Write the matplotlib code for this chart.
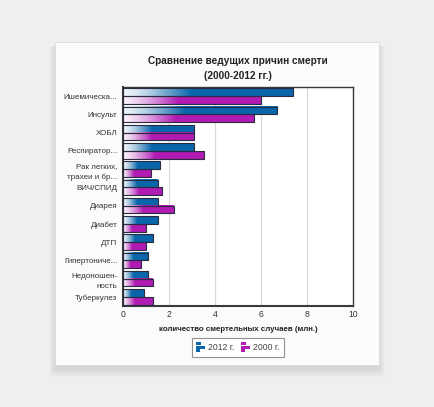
import numpy as np
import matplotlib.pyplot as plt
from matplotlib.patches import Rectangle, Patch
from matplotlib.legend_handler import HandlerBase
from matplotlib.colors import to_rgb

plt.rcParams['font.family'] = ['Liberation Sans', 'DejaVu Sans']

# data (millions of deaths)
causes = ["Ишемическа...", "Инсульт", "ХОБЛ", "Респиратор...",
          "Рак легких,\nтрахеи и бр...", "ВИЧ/СПИД", "Диарея", "Диабет",
          "ДТП", "Гипертониче...", "Недоношен-\nность", "Туберкулез"]
deaths_2012 = [7.4, 6.7, 3.1, 3.1, 1.6, 1.5, 1.5, 1.5, 1.3, 1.1, 1.1, 0.9]
deaths_2000 = [6.0, 5.7, 3.1, 3.5, 1.2, 1.7, 2.2, 1.0, 1.0, 0.8, 1.3, 1.3]
series_names = ["2012 г.", "2000 г."]
xticks = [0, 2, 4, 6, 8, 10]

blue = "#0a66ab"
magenta = "#b01cb4"
W, H = 434, 407

fig = plt.figure(figsize=(W / 100, H / 100), dpi=100)
fig.patch.set_facecolor("#efefef")

# card with soft shadow, mostly below
cx0, cx1, cy0, cy1 = 55, 379, 42, 365
for i in range(8):
    d = 8 - i
    fig.patches.append(Rectangle(((cx0 - d * 0.7) / W, (H - cy1 - d - 4) / H),
                                 (cx1 - cx0 + 1.4 * d) / W, (cy1 - cy0 + d) / H,
                                 transform=fig.transFigure, facecolor="black",
                                 edgecolor="none", alpha=0.012, zorder=0))
fig.patches.append(Rectangle((cx0 / W, (H - cy1) / H), (cx1 - cx0) / W, (cy1 - cy0) / H,
                             transform=fig.transFigure, facecolor="#fbfbfb",
                             edgecolor="#dcdcdc", lw=0.6, zorder=1))

ax = fig.add_axes([123 / W, (H - 306) / H, 230 / W, 219 / H])
ax.set_facecolor("white")
ax.set_zorder(2)

bh = 0.43
y = np.arange(len(causes))


def grad_bar(yc, val, color):
    rgb = np.array(to_rgb(color))
    n = 200
    t = np.linspace(0, 1, n)
    k = np.clip(t / 0.4, 0, 1) ** 1.3
    light = np.array([1.0, 1.0, 1.0]) * 0.95 + rgb * 0.05
    img = light[None, :] * (1 - k[:, None]) + rgb[None, :] * k[:, None]
    ax.imshow(img[None, :, :], extent=[0, val, yc + bh / 2, yc - bh / 2],
              aspect="auto", zorder=2, interpolation="bilinear")
    ax.barh(yc, val, height=bh, facecolor="none", edgecolor="#2b2b40",
            lw=0.8, zorder=3)


for i in range(len(causes)):
    grad_bar(y[i] - bh / 2, deaths_2012[i], blue)
    grad_bar(y[i] + bh / 2, deaths_2000[i], magenta)

ax.set_xlim(0, 10)
ax.set_ylim(len(causes) - 0.5, -0.5)
ax.set_xticks(xticks)
ax.set_yticks(y)
ax.set_yticklabels(causes, fontsize=5.8, color="#333333", linespacing=1.75)
ax.tick_params(axis="x", labelsize=6.2, colors="#333333", length=0, pad=3)
ax.tick_params(axis="y", length=0, pad=4)
ax.grid(axis="x", color="#d9d9d9", lw=0.9, zorder=1)
ax.set_axisbelow(True)
for s in ax.spines.values():
    s.set_color("#3a3a3a")
    s.set_linewidth(1.0)
ax.spines["left"].set_linewidth(1.5)
ax.spines["bottom"].set_linewidth(1.5)

ax.set_xlabel("количество смертельных случаев (млн.)", fontsize=5.7,
              fontweight="bold", color="#222222", labelpad=5)
ax.set_title("Сравнение ведущих причин смерти\n(2000-2012 гг.)", fontsize=7.2,
             fontweight="bold", color="#222222", pad=6, linespacing=1.6)


# small bar-chart icon for the legend
class BarIcon(HandlerBase):
    def create_artists(self, legend, orig_handle, xdescent, ydescent,
                       width, height, fontsize, trans):
        c = orig_handle.get_facecolor()
        h = height / 3
        arts = []
        for j, frac in enumerate([0.55, 1.0, 0.4]):
            r = Rectangle((-xdescent, -ydescent + height - (j + 1) * h + 0.2),
                          width * frac, h * 0.85, facecolor=c, edgecolor="none",
                          transform=trans)
            arts.append(r)
        return arts


handles = [Patch(facecolor=blue), Patch(facecolor=magenta)]
leg = ax.legend(handles, series_names, loc="upper center",
                bbox_to_anchor=(0.5, -0.125), ncol=2, fontsize=6.2,
                frameon=True, fancybox=False, handlelength=1.0,
                handleheight=1.5, handletextpad=0.4, columnspacing=0.8,
                borderpad=0.5, labelcolor="#444444",
                handler_map={Patch: BarIcon()})
leg.get_frame().set_edgecolor("#777777")
leg.get_frame().set_linewidth(0.8)

fig.savefig("out.png", dpi=100, facecolor=fig.get_facecolor())
